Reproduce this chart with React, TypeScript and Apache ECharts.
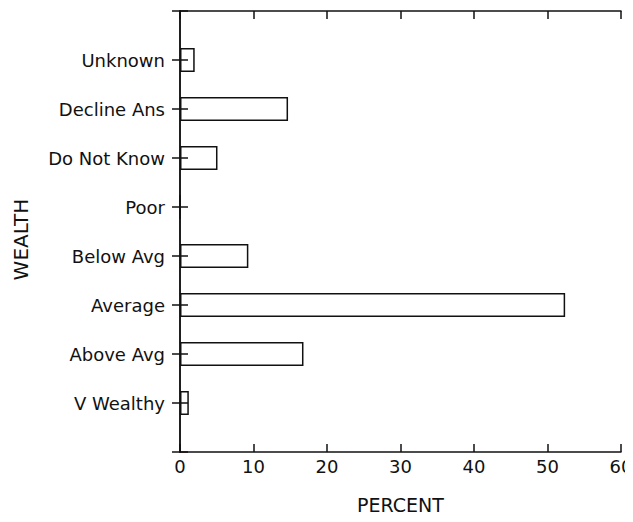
import React, { useEffect, useRef } from "react";
import * as echarts from "echarts";

const categories = ["V Wealthy", "Above Avg", "Average", "Below Avg", "Poor", "Do Not Know", "Decline Ans", "Unknown"];
const percents = [1.2, 16.8, 52.4, 9.3, 0, 5.1, 14.7, 2.0];
const xTicks = [0, 10, 20, 30, 40, 50, 60];

const FONT = "DejaVu Sans";

export default function App() {
  const ref = useRef<HTMLDivElement>(null);
  useEffect(() => {
    if (!ref.current) return;
    const chart = echarts.init(ref.current, null, { renderer: "svg" });
    const yData = ["", ...categories, ""];
    const sData: (number | null)[] = [null, ...percents, null];
    const line = { color: "#111", width: 1.5 };
    chart.setOption({
      animation: false,
      backgroundColor: "#fff",
      grid: { left: 172, right: 12, top: 3, bottom: 62, containLabel: false, outerBoundsMode: "none" },
      xAxis: [
        {
          type: "value",
          min: xTicks[0],
          max: xTicks[xTicks.length - 1],
          interval: 10,
          position: "bottom",
          name: "PERCENT",
          nameLocation: "middle",
          nameGap: 43,
          nameTextStyle: { color: "#111", fontFamily: FONT, fontSize: 19 },
          axisLine: { show: true, lineStyle: line },
          axisTick: { show: true, inside: true, length: 8, lineStyle: line },
          axisLabel: { color: "#111", fontFamily: FONT, fontSize: 18, margin: 5 },
          splitLine: { show: false },
        },
        {
          type: "value",
          min: xTicks[0],
          max: xTicks[xTicks.length - 1],
          interval: 10,
          position: "top",
          axisLine: { show: true, lineStyle: line },
          axisTick: { show: true, inside: true, length: 8, lineStyle: line },
          axisLabel: { show: false },
          splitLine: { show: false },
        },
      ],
      yAxis: [
        {
          type: "category",
          data: yData,
          boundaryGap: false,
          position: "left",
          name: "WEALTH",
          nameLocation: "middle",
          nameGap: 149,
          nameRotate: 90,
          nameTextStyle: { color: "#111", fontFamily: FONT, fontSize: 20, padding: [0, 16, 0, 0] },
          axisLine: { show: true, lineStyle: line },
          axisTick: { show: true, inside: true, length: 8, lineStyle: line },
          axisLabel: { color: "#111", fontFamily: FONT, fontSize: 18, margin: 15 },
          splitLine: { show: false },
        },
        {
          type: "category",
          data: yData,
          boundaryGap: false,
          position: "right",
          axisLine: { show: true, lineStyle: line },
          axisTick: { show: true, inside: true, length: 8, lineStyle: line },
          axisLabel: { show: false },
          splitLine: { show: false },
        },
      ],
      series: [
        {
          type: "bar",
          xAxisIndex: 0,
          yAxisIndex: 0,
          data: sData,
          barWidth: 24,
          itemStyle: { color: "rgba(0,0,0,0)", borderColor: "#111", borderWidth: 1.5 },
          silent: true,
        },
      ],
    });
    return () => chart.dispose();
  }, []);
  return <div ref={ref} style={{ width: 625, height: 506 }} />;
}
